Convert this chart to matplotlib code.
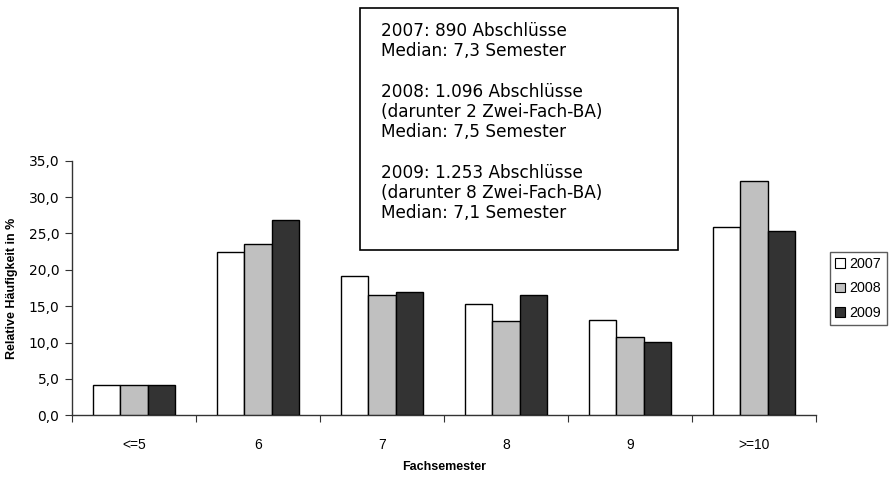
import matplotlib
matplotlib.use("Agg")
import matplotlib.pyplot as plt
import numpy as np
from matplotlib.patches import Patch, Rectangle

categories = ["<=5", "6", "7", "8", "9", ">=10"]
years = ["2007", "2008", "2009"]
v2007 = [4.1, 22.5, 19.1, 15.3, 13.1, 25.9]
v2008 = [4.1, 23.5, 16.5, 12.9, 10.7, 32.2]
v2009 = [4.1, 26.9, 16.9, 16.6, 10.1, 25.4]
yticks = [0, 5, 10, 15, 20, 25, 30, 35]
info_text = ("2007: 890 Abschlüsse\nMedian: 7,3 Semester\n\n"
             "2008: 1.096 Abschlüsse\n(darunter 2 Zwei-Fach-BA)\nMedian: 7,5 Semester\n\n"
             "2009: 1.253 Abschlüsse\n(darunter 8 Zwei-Fach-BA)\nMedian: 7,1 Semester")

LIB = ['Liberation Sans', 'DejaVu Sans']
DJV = ['DejaVu Sans']
plt.rcParams['font.family'] = LIB

fig = plt.figure(figsize=(8.89, 4.78), dpi=100)
ax = fig.add_axes([72/889, 1-415.3/478, (816-72)/889, (415.3-160.7)/478])

colors = ["#ffffff", "#c0c0c0", "#333333"]
series = [v2007, v2008, v2009]
x = np.arange(len(categories))
w = 0.222
for i, (vals, c) in enumerate(zip(series, colors)):
    ax.bar(x + (i - 1) * w, vals, width=w, color=c, edgecolor="black", linewidth=1.0, zorder=3)

ax.set_xlim(-0.5, len(categories) - 0.5)
ax.set_ylim(0, 35)
ax.set_yticks(yticks)
ax.set_yticklabels([f"{t:.1f}".replace(".", ",") for t in yticks], fontsize=10, family=DJV)
ax.set_xticks(np.arange(-0.5, len(categories), 1.0))
ax.set_xticklabels([])
ax.set_xticks(x, minor=True)
ax.set_xticklabels(categories, minor=True, fontsize=10, family=LIB)
ax.tick_params(axis='x', which='minor', length=0, pad=16)
ax.tick_params(axis='x', which='major', length=5, direction='out', color='#333333')
ax.tick_params(axis='y', length=5, direction='out', color='#333333', pad=4)
for s in ["top", "right"]:
    ax.spines[s].set_visible(False)
for s in ["left", "bottom"]:
    ax.spines[s].set_color("#333333")
    ax.spines[s].set_linewidth(1.0)

ax.set_ylabel("Relative Häufigkeit in %", fontsize=9, fontweight='bold', labelpad=7.5)
ax.set_xlabel("Fachsemester", fontsize=9, fontweight='bold', labelpad=7)

handles = [Patch(facecolor=c, edgecolor="black", linewidth=0.8, label=y) for c, y in zip(colors, years)]
leg = fig.legend(handles=handles, loc='center left', bbox_to_anchor=(830/889, 1-288.5/478),
                 fontsize=10.3, frameon=True, fancybox=False, edgecolor="#333333",
                 handlelength=0.68, handleheight=0.68, handletextpad=0.34, borderpad=0.36,
                 labelspacing=0.72, borderaxespad=0)
leg.get_frame().set_linewidth(1.0)

fig.patches.append(Rectangle((360/889, 1-250/478), (678-360)/889, (250-8.3)/478,
                   transform=fig.transFigure, facecolor="white", edgecolor="black", linewidth=1.2, zorder=5))
fig.text(381/889, 1-22/478, info_text, ha='left', va='top', fontsize=12.2, family=DJV,
         linespacing=1.16, zorder=6)

fig.savefig("out.png", dpi=100)
